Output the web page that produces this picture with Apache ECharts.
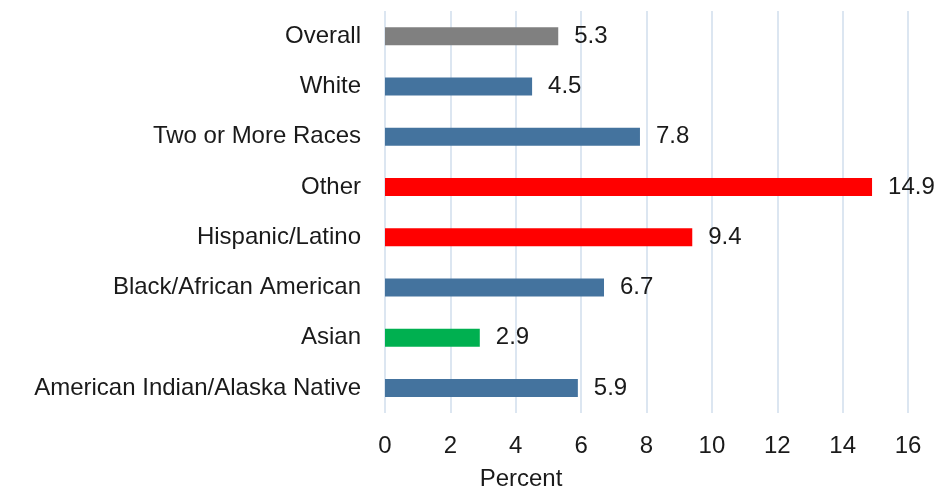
<!DOCTYPE html>
<html>
<head>
<meta charset="utf-8">
<script src="https://cdn.jsdelivr.net/npm/echarts@6/dist/echarts.min.js"></script>
<style>
  html, body { margin: 0; padding: 0; background: #fff; }
  #chart { width: 943px; height: 487px; }
</style>
</head>
<body>
<div id="chart"></div>
<script>
// bottom to top, as the category axis draws them
var categories = ['American Indian/Alaska Native', 'Asian', 'Black/African American',
  'Hispanic/Latino', 'Other', 'Two or More Races', 'White', 'Overall'];
var values = [5.9, 2.9, 6.7, 9.4, 14.9, 7.8, 4.5, 5.3];
var barColors = ['#44739e', '#00b050', '#44739e', '#ff0000', '#ff0000', '#44739e', '#44739e', '#808080'];
var xTicks = [0, 2, 4, 6, 8, 10, 12, 14, 16];

var font = 'Liberation Sans';
var myChart = echarts.init(document.getElementById('chart'));
var option = {
  animation: false,
  textStyle: { fontFamily: font },
  title: {
    text: 'Percent',
    left: 516,
    top: 462,
    textAlign: 'center',
    textStyle: { fontFamily: font, fontSize: 24, fontWeight: 'normal', color: '#1a1a1a' }
  },
  grid: { left: 385, right: 35, top: 11, bottom: 74, containLabel: false },
  xAxis: {
    type: 'value',
    min: xTicks[0],
    max: xTicks[xTicks.length - 1],
    interval: 2,
    axisLine: { show: false },
    axisTick: { show: false },
    axisLabel: { fontSize: 24, color: '#1a1a1a', margin: 21, fontFamily: font },
    splitLine: { show: true, lineStyle: { color: '#dce6f1', width: 2 } }
  },
  yAxis: {
    type: 'category',
    data: categories,
    axisLine: { show: false },
    axisTick: { show: false },
    axisLabel: { fontSize: 24, color: '#1a1a1a', margin: 24, fontFamily: font }
  },
  series: [{
    type: 'bar',
    barWidth: 18,
    data: values.map(function (v, i) {
      return { value: v, itemStyle: { color: barColors[i] } };
    }),
    label: {
      show: true,
      position: 'right',
      distance: 16,
      fontSize: 24,
      color: '#1a1a1a',
      fontFamily: font
    }
  }]
};
myChart.setOption(option);
</script>
</body>
</html>
